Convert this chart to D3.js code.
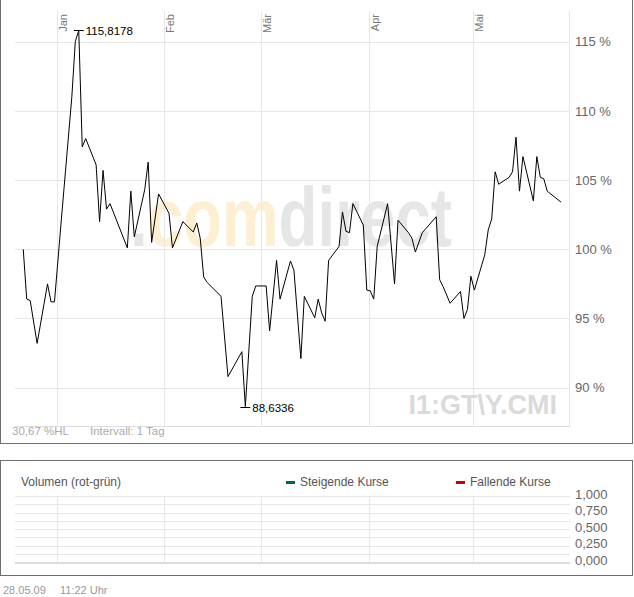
<!DOCTYPE html>
<html>
<head>
<meta charset="utf-8">
<script src="https://cdn.jsdelivr.net/npm/d3@7"></script>
<style>
  body { margin: 0; background: #fff; }
  svg { display: block; font-family: "Liberation Sans", Arial, sans-serif; }
</style>
</head>
<body>
<svg width="634" height="597"></svg>
<script>
// quote dates and index level in % of the first quote
var dates = ["2008-12-22","2008-12-23","2008-12-24","2008-12-26","2008-12-29","2008-12-30","2008-12-31",
  "2009-01-02","2009-01-05","2009-01-06","2009-01-07","2009-01-08","2009-01-09","2009-01-12","2009-01-13",
  "2009-01-14","2009-01-15","2009-01-16","2009-01-21","2009-01-22","2009-01-23","2009-01-26","2009-01-27",
  "2009-01-28","2009-01-30",
  "2009-02-02","2009-02-03","2009-02-06","2009-02-09","2009-02-10","2009-02-11","2009-02-12","2009-02-13",
  "2009-02-17","2009-02-19","2009-02-23","2009-02-24","2009-02-26","2009-02-27",
  "2009-03-02","2009-03-03","2009-03-05","2009-03-06","2009-03-09","2009-03-10","2009-03-12","2009-03-13",
  "2009-03-16","2009-03-17","2009-03-18","2009-03-19","2009-03-20","2009-03-23","2009-03-24","2009-03-25",
  "2009-03-26","2009-03-27","2009-03-30","2009-03-31",
  "2009-04-01","2009-04-02","2009-04-03","2009-04-06","2009-04-08","2009-04-09","2009-04-12","2009-04-13",
  "2009-04-14","2009-04-16","2009-04-20","2009-04-21","2009-04-22","2009-04-24","2009-04-27","2009-04-28",
  "2009-04-29","2009-04-30",
  "2009-05-01","2009-05-04","2009-05-05","2009-05-06","2009-05-07","2009-05-08","2009-05-11","2009-05-12",
  "2009-05-13","2009-05-14","2009-05-15","2009-05-18","2009-05-19","2009-05-20","2009-05-21","2009-05-22",
  "2009-05-26"];
var values = [100.0, 96.4, 96.3, 93.2, 97.5, 96.2, 96.2,
  102.2, 111.0, 115.0, 115.8178, 107.4, 108.0, 106.1, 102.0,
  105.7, 102.9, 103.3, 100.1, 104.2, 100.9, 104.3, 106.3,
  100.5, 104.0,
  102.6, 100.1, 102.0, 101.25, 101.9, 100.8, 98.0, 97.6,
  96.6, 90.8, 92.6, 88.6336, 96.6, 97.35,
  97.35, 94.1, 99.2, 96.4, 99.15, 98.5, 92.1, 96.6,
  95.05, 96.4, 95.4, 94.8, 99.2, 100.2, 102.7, 101.3,
  101.2, 103.3, 101.75, 97.05,
  97.0, 96.4, 100.2, 103.3, 97.5, 102.1, 101.2, 100.8,
  99.8, 101.2, 102.35, 97.8, 97.3, 96.1, 96.95, 95.0,
  95.65, 98.05,
  97.05, 99.6, 101.4, 102.2, 105.6, 104.7, 105.2, 105.6,
  108.1, 104.2, 106.7, 103.5, 106.7, 105.2, 105.1, 104.2,
  103.4];

var monthLabels = ["Jan", "Feb", "Mär", "Apr", "Mai"];
var priceTicks = [90, 95, 100, 105, 110, 115];
var volumeTicks = [0, 0.25, 0.5, 0.75, 1];
var volumeGrid = [0, 0.125, 0.25, 0.375, 0.5, 0.625, 0.75, 0.875, 1];

var svg = d3.select("svg");
var de = d3.formatLocale({decimal: ",", thousands: ".", grouping: [3], currency: ["", " €"]});
var parse = d3.timeParse("%Y-%m-%d");

// quotes are stamped in the morning, a bit right of the day start
var data = dates.map(function(d, i) {
  return {date: d3.timeHour.offset(parse(d), 9), value: values[i]};
});

var x = d3.scaleTime()
    .domain([new Date(2008, 11, 20), new Date(2009, 4, 28, 15, 30)])
    .range([15, 569]);
var y = d3.scaleLinear().domain([87.23, 117.22]).range([426, 11]);
var yVol = d3.scaleLinear().domain([0, 1]).range([562, 496]);

var months = d3.timeMonth.range(new Date(2009, 0, 1), new Date(2009, 4, 2));

//////////// PRICE PANEL ////////////

svg.append("rect")
    .attr("x", 0.5).attr("y", -0.5).attr("width", 632).attr("height", 444)
    .attr("fill", "none").attr("stroke", "#6e6e6e");

// watermark: one condensed bold word, "com" tinted
var wm = svg.append("text")
    .attr("transform", "translate(130,246) scale(0.758,1)")
    .attr("font-size", 84).attr("font-weight", "bold");
wm.append("tspan").attr("fill", "#e6e6e6").text(".");
wm.append("tspan").attr("fill", "#fdf0d2").text("com");
wm.append("tspan").attr("fill", "#e6e6e6").text("direct");

var grid = svg.append("g").attr("stroke", "#e6e6e6").attr("shape-rendering", "crispEdges");
grid.selectAll(".h")
  .data(priceTicks)
  .enter().append("line")
    .attr("x1", 15).attr("x2", 569)
    .attr("y1", function(d) { return Math.round(y(d)) + 0.5; })
    .attr("y2", function(d) { return Math.round(y(d)) + 0.5; });
grid.selectAll(".v")
  .data(months)
  .enter().append("line")
    .attr("y1", 11).attr("y2", 426)
    .attr("x1", function(d) { return Math.round(x(d)) + 0.5; })
    .attr("x2", function(d) { return Math.round(x(d)) + 0.5; });
grid.append("line").attr("x1", 569.5).attr("x2", 569.5).attr("y1", 11).attr("y2", 426);
grid.append("line").attr("x1", 15).attr("x2", 570).attr("y1", 426.5).attr("y2", 426.5)
    .attr("stroke", "#dcdcdc");

svg.append("text")
    .attr("x", 557).attr("y", 414)
    .attr("text-anchor", "end")
    .attr("font-size", 27).attr("font-weight", "bold")
    .attr("fill", "#dadada")
    .text("I1:GT\\Y.CMI");

svg.selectAll(".month")
  .data(months)
  .enter().append("text")
    .attr("transform", function(d) { return "translate(" + (Math.round(x(d)) + 9.5) + ",14) rotate(-90)"; })
    .attr("text-anchor", "end")
    .attr("font-size", 11)
    .attr("fill", "#777")
    .text(function(d, i) { return monthLabels[i]; });

svg.selectAll(".ylab")
  .data(priceTicks)
  .enter().append("text")
    .attr("x", 575)
    .attr("y", function(d) { return y(d); })
    .attr("dy", "0.36em")
    .attr("font-size", 13)
    .attr("fill", "#666")
    .text(function(d) { return d + " %"; });

var line = d3.line()
    .x(function(d) { return x(d.date); })
    .y(function(d) { return y(d.value); });

svg.append("path")
    .datum(data)
    .attr("d", line)
    .attr("fill", "none")
    .attr("stroke", "#000")
    .attr("stroke-width", 1);

// high / low markers
var hi = data[d3.maxIndex(data, function(d) { return d.value; })];
var lo = data[d3.minIndex(data, function(d) { return d.value; })];
[hi, lo].forEach(function(p) {
  var px = x(p.date), py = Math.round(y(p.value)) + 0.5;
  svg.append("line")
      .attr("x1", px - 5).attr("x2", px + 5)
      .attr("y1", py).attr("y2", py)
      .attr("stroke", "#000");
  svg.append("text")
      .attr("x", px + 7).attr("y", py).attr("dy", "0.36em")
      .attr("font-size", 11.5)
      .attr("fill", "#000")
      .text(de.format(".4f")(p.value));
});

svg.append("text")
    .attr("x", 12).attr("y", 431).attr("dy", "0.36em")
    .attr("font-size", 11.5).attr("fill", "#aaa")
    .text(de.format(".2f")((hi.value - lo.value) / lo.value * 100) + " %HL");
svg.append("text")
    .attr("x", 90).attr("y", 431).attr("dy", "0.36em")
    .attr("font-size", 11.5).attr("fill", "#aaa")
    .text("Intervall: 1 Tag");

//////////// VOLUME PANEL ////////////

svg.append("rect")
    .attr("x", 0.5).attr("y", 460.5).attr("width", 632).attr("height", 115)
    .attr("fill", "none").attr("stroke", "#6e6e6e");

svg.append("text")
    .attr("x", 21).attr("y", 482).attr("dy", "0.36em")
    .attr("font-size", 12).attr("fill", "#555")
    .text("Volumen (rot-grün)");

var legend = [{label: "Steigende Kurse", color: "#006a3a", x: 286},
              {label: "Fallende Kurse", color: "#d00000", x: 456}];
legend.forEach(function(l) {
  svg.append("rect")
      .attr("x", l.x).attr("y", 481).attr("width", 9).attr("height", 3)
      .attr("fill", l.color);
  svg.append("text")
      .attr("x", l.x + 14).attr("y", 482).attr("dy", "0.36em")
      .attr("font-size", 12).attr("fill", "#555")
      .text(l.label);
});

var vgrid = svg.append("g").attr("stroke", "#e6e6e6").attr("shape-rendering", "crispEdges");
vgrid.selectAll(".h")
  .data(volumeGrid)
  .enter().append("line")
    .attr("x1", 15).attr("x2", 570)
    .attr("y1", function(d) { return Math.round(yVol(d)) + 0.5; })
    .attr("y2", function(d) { return Math.round(yVol(d)) + 0.5; })
    .attr("stroke-width", function(d) { return d === 0 ? 2 : 1; })
    .attr("stroke", function(d) { return d === 0 ? "#dcdcdc" : "#e6e6e6"; });
vgrid.selectAll(".v")
  .data(months)
  .enter().append("line")
    .attr("y1", 496).attr("y2", 562)
    .attr("x1", function(d) { return Math.round(x(d)) + 0.5; })
    .attr("x2", function(d) { return Math.round(x(d)) + 0.5; });

svg.selectAll(".vlab")
  .data(volumeTicks)
  .enter().append("text")
    .attr("x", 575)
    .attr("y", function(d) { return yVol(d) - 2; })
    .attr("dy", "0.36em")
    .attr("font-size", 13)
    .attr("fill", "#666")
    .text(function(d) { return de.format(".3f")(d); });

// timestamp
svg.append("text")
    .attr("x", 3).attr("y", 590).attr("dy", "0.36em")
    .attr("font-size", 11).attr("fill", "#999")
    .text("28.05.09");
svg.append("text")
    .attr("x", 60).attr("y", 590).attr("dy", "0.36em")
    .attr("font-size", 11).attr("fill", "#999")
    .text("11:22 Uhr");
</script>
</body>
</html>
